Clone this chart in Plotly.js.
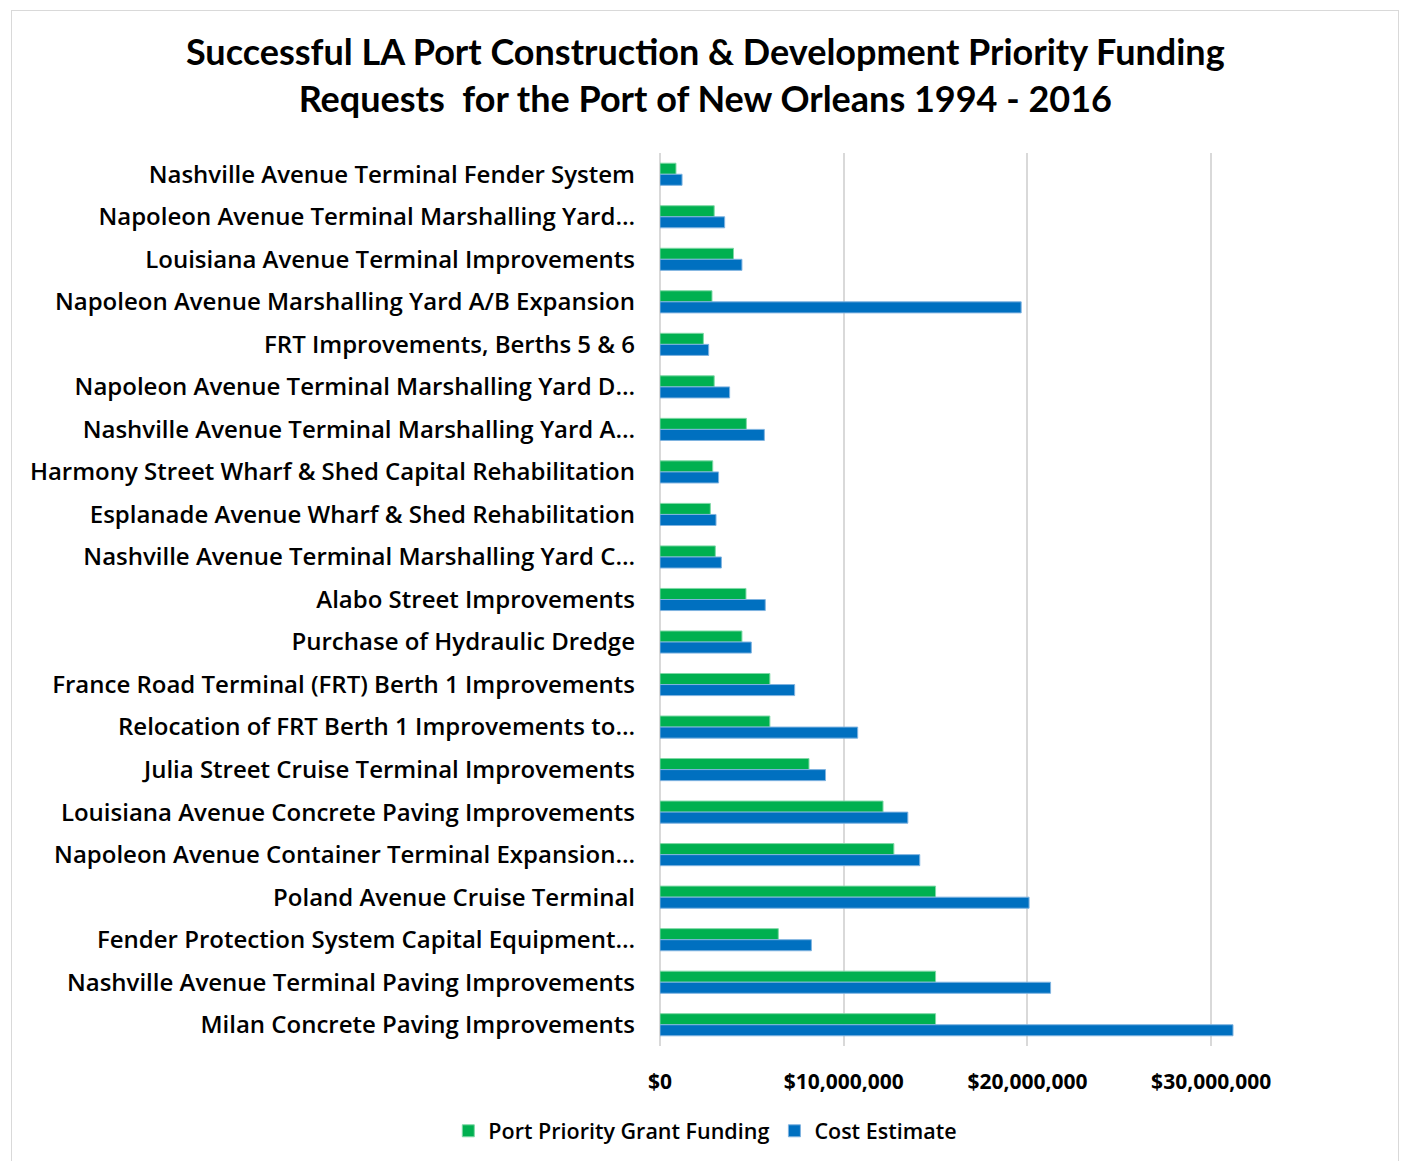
<!DOCTYPE html>
<html>
<head>
<meta charset="utf-8">
<script src="https://cdn.plot.ly/plotly-3.0.1.min.js"></script>
<style>
  html, body { margin: 0; padding: 0; background: #fff; }
  #chart { width: 1405px; height: 1161px; }
  #frame { position: absolute; left: 11px; top: 10px; width: 1386px; height: 1160px; border: 1px solid #d9d9d9; pointer-events: none; }
</style>
</head>
<body>
<div id="chart"></div>
<div id="frame"></div>
<script>
const categories = [
  "Nashville Avenue Terminal Fender System",
  "Napoleon Avenue Terminal Marshalling Yard…",
  "Louisiana Avenue Terminal Improvements",
  "Napoleon Avenue Marshalling Yard A/B Expansion",
  "FRT Improvements, Berths 5 & 6",
  "Napoleon Avenue Terminal Marshalling Yard D…",
  "Nashville Avenue Terminal Marshalling Yard A…",
  "Harmony Street Wharf & Shed Capital Rehabilitation",
  "Esplanade Avenue Wharf & Shed Rehabilitation",
  "Nashville Avenue Terminal Marshalling Yard C…",
  "Alabo Street Improvements",
  "Purchase of Hydraulic Dredge",
  "France Road Terminal (FRT) Berth 1 Improvements",
  "Relocation of FRT Berth 1 Improvements to…",
  "Julia Street Cruise Terminal Improvements",
  "Louisiana Avenue Concrete Paving Improvements",
  "Napoleon Avenue Container Terminal Expansion…",
  "Poland Avenue Cruise Terminal",
  "Fender Protection System Capital Equipment…",
  "Nashville Avenue Terminal Paving Improvements",
  "Milan Concrete Paving Improvements"
];
const grantFunding = [
  870000, 2950000, 4000000, 2830000, 2360000, 2950000, 4700000,
  2870000, 2740000, 3010000, 4680000, 4460000, 5980000, 5980000,
  8110000, 12140000, 12730000, 15000000, 6440000, 15000000, 15000000
];
const costEstimate = [
  1200000, 3520000, 4460000, 19660000, 2650000, 3790000, 5680000,
  3190000, 3050000, 3340000, 5730000, 4970000, 7330000, 10760000,
  9010000, 13490000, 14140000, 20090000, 8240000, 21260000, 31190000
];
const xTickVals = [0, 10000000, 20000000, 30000000];
const xTickText = ["$0", "$10,000,000", "$20,000,000", "$30,000,000"];

const FONT = "'Open Sans', Lato, sans-serif";
const TFONT = "Lato, 'Open Sans', sans-serif";

const traces = [
  {
    type: "bar", orientation: "h", name: "Port Priority Grant Funding",
    y: categories, x: grantFunding,
    marker: { color: "#00B050", line: { color: "#7fd8a6", width: 1 } },
    hoverinfo: "x+y"
  },
  {
    type: "bar", orientation: "h", name: "Cost Estimate",
    y: categories, x: costEstimate,
    marker: { color: "#0070C0", line: { color: "#7fb3e0", width: 1 } },
    hoverinfo: "x+y"
  }
];

const layout = {
  width: 1405, height: 1161,
  paper_bgcolor: "#fff", plot_bgcolor: "#fff",
  font: { family: FONT, color: "#000" },
  title: {
    text: "<b>Successful LA Port Construction & Development Priority Funding<br>Requests  for the Port of New Orleans 1994 - 2016</b>",
    font: { family: TFONT, size: 36, color: "#000" },
    x: 0.502, xanchor: "center", yref: "container", y: 0.944, yanchor: "middle"
  },
  margin: { l: 660, r: 102, t: 153, b: 115 },
  barmode: "group",
  bargap: 0.48, bargroupgap: 0,
  xaxis: {
    range: [0, 35000000],
    tickvals: xTickVals, ticktext: xTickText,
    tickfont: { family: FONT, size: 21, color: "#000", weight: "bold" },
    showgrid: true, gridcolor: "#d9d9d9", gridwidth: 1.5,
    zeroline: true, zerolinecolor: "#d9d9d9", zerolinewidth: 1.5,
    showline: false, ticks: "", ticklabelstandoff: 21,
    automargin: false, fixedrange: true
  },
  yaxis: {
    autorange: "reversed",
    type: "category",
    tickfont: { family: FONT, size: 24, color: "#000", weight: 600 },
    showgrid: false, zeroline: false, showline: false,
    ticks: "", ticklabelstandoff: 24,
    automargin: false, fixedrange: true
  },
  legend: {
    orientation: "h", x: 0.502, xref: "container", xanchor: "center",
    y: 0.026, yref: "container", yanchor: "middle",
    font: { family: FONT, size: 21.5, color: "#000", weight: 600 },
    itemwidth: 30, traceorder: "normal"
  },
  showlegend: true
};

Plotly.newPlot("chart", traces, layout, { displayModeBar: false, staticPlot: false });
</script>
</body>
</html>
